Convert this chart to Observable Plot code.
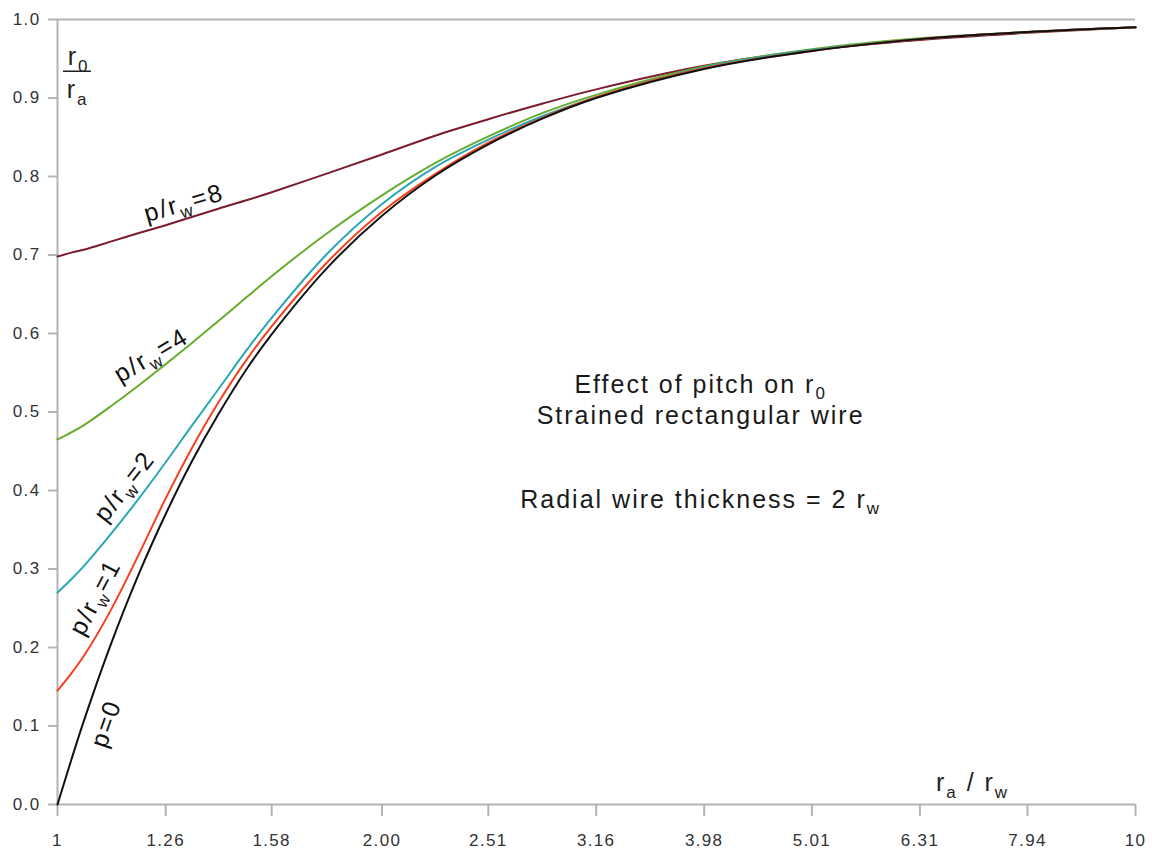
<!DOCTYPE html>
<html>
<head>
<meta charset="utf-8">
<script src="https://cdn.jsdelivr.net/npm/d3@7"></script>
<script src="https://cdn.jsdelivr.net/npm/@observablehq/plot@0.6"></script>
<style>
  html, body { margin: 0; padding: 0; background: #fff; }
  svg text { letter-spacing: 0.08em; }
</style>
</head>
<body>
<div id="chart"></div>
<script>
// ---- data ----
const xVals = [1, 1.03, 1.06, 1.12, 1.19, 1.26, 1.33, 1.41, 1.5, 1.58, 1.78, 2.0, 2.24, 2.51, 2.82, 3.16, 3.98, 5.01, 6.31, 7.94, 10];
const seriesNames = ["p/rw=8", "p/rw=4", "p/rw=2", "p/rw=1", "p=0"];
const pitch8 = [0.698, 0.703, 0.707, 0.717, 0.728, 0.738, 0.748, 0.759, 0.770, 0.780, 0.804, 0.828, 0.852, 0.873, 0.893, 0.911, 0.941, 0.961, 0.974, 0.983, 0.990];
const pitch4 = [0.465, 0.474, 0.484, 0.507, 0.534, 0.561, 0.587, 0.616, 0.647, 0.673, 0.728, 0.776, 0.817, 0.851, 0.881, 0.904, 0.940, 0.962, 0.976, 0.984, 0.990];
const pitch2 = [0.270, 0.287, 0.305, 0.344, 0.390, 0.436, 0.481, 0.529, 0.580, 0.620, 0.702, 0.765, 0.812, 0.847, 0.877, 0.901, 0.939, 0.961, 0.975, 0.984, 0.990];
const pitch1 = [0.145, 0.167, 0.191, 0.247, 0.319, 0.390, 0.452, 0.512, 0.568, 0.609, 0.691, 0.755, 0.803, 0.843, 0.875, 0.901, 0.938, 0.960, 0.975, 0.984, 0.990];
const pitch0 = [0.000, 0.057, 0.110, 0.203, 0.294, 0.370, 0.435, 0.497, 0.556, 0.599, 0.684, 0.750, 0.801, 0.841, 0.874, 0.900, 0.937, 0.960, 0.975, 0.984, 0.990];
const seriesValues = [pitch8, pitch4, pitch2, pitch1, pitch0];

const xTickValues = [1, 1.26, 1.58, 2.00, 2.51, 3.16, 3.98, 5.01, 6.31, 7.94, 10];
const xTickLabels = ["1", "1.26", "1.58", "2.00", "2.51", "3.16", "3.98", "5.01", "6.31", "7.94", "10"];
const yTickValues = [0, 0.1, 0.2, 0.3, 0.4, 0.5, 0.6, 0.7, 0.8, 0.9, 1.0];

const curveLabels = ["p/r_w=8", "p/r_w=4", "p/r_w=2", "p/r_w=1", "p=0"];
const noteLines = ["Effect of pitch on r_0", "Strained rectangular wire", "Radial wire thickness = 2 r_w"];
const yLabelParts = ["r_0", "r_a"];
const xLabelText = ["r_a / r_w"];

// ---- positions & styles ----
const seriesColors = ["#7b1c2c", "#66ac2e", "#2aa7b3", "#f5401e", "#111111"];
const axisGray = "#b4b4b4";
const curveLabelX = [1.310, 1.222, 1.154, 1.0845, 1.110];
const curveLabelY = [0.766, 0.572, 0.405, 0.264, 0.103];
const curveLabelAngle = [-16, -31, -52, -62, -71];
const noteX = [3.95, 3.95, 3.95];
const noteY = [0.535, 0.4955, 0.3885];
const yLabelX = [1.046, 1.044];
const yLabelY = [0.9516, 0.9096];

const table = [];
seriesNames.forEach((name, s) => {
  xVals.forEach((x, i) => table.push({series: name, x, y: seriesValues[s][i]}));
});
const tickLabelMap = new Map(xTickValues.map((v, i) => [v, xTickLabels[i]]));

const chart = Plot.plot({
  width: 1152,
  height: 853,
  marginLeft: 57,
  marginRight: 17,
  marginTop: 19,
  marginBottom: 49,
  style: {fontFamily: "'Liberation Sans', Arial, sans-serif", background: "#fff", color: "#222"},
  x: {type: "log", domain: [1, 10]},
  y: {domain: [0, 1]},
  color: {domain: seriesNames, range: seriesColors},
  marks: [
    Plot.ruleY([1], {stroke: axisGray, strokeWidth: 2}),
    Plot.ruleY([0], {stroke: axisGray, strokeWidth: 2}),
    Plot.ruleX([1], {stroke: axisGray, strokeWidth: 2}),
    Plot.axisX({ticks: xTickValues, tickFormat: d => tickLabelMap.get(d), tickSize: 12, tickPadding: 17,
      stroke: axisGray, strokeWidth: 2, fill: "#333", fontSize: 17, label: null}),
    Plot.axisY({ticks: yTickValues, tickFormat: d3.format(".1f"), tickSize: 9, tickPadding: 8,
      stroke: axisGray, strokeWidth: 2, fill: "#333", fontSize: 17, label: null}),
    Plot.line(table, {x: "x", y: "y", z: "series", stroke: "series", strokeWidth: 2, curve: "catmull-rom"}),
    Plot.text(curveLabels, {x: curveLabelX, y: curveLabelY, rotate: curveLabelAngle, text: d => d,
      fontSize: 25, fill: "#111"}),
    Plot.text(noteLines, {x: noteX, y: noteY, text: d => d, fontSize: 25, fill: "#1a1a1a"}),
    Plot.text(yLabelParts, {x: yLabelX, y: yLabelY, text: d => d, fontSize: 25, fill: "#222"}),
    Plot.ruleY([0.9341], {x1: 1.0129, x2: 1.0753, stroke: "#222", strokeWidth: 1.5}),
    Plot.text(xLabelText, {x: [7.06], y: [0.0268], text: d => d, fontSize: 25, fill: "#222"})
  ]
});

document.getElementById("chart").append(chart);

// turn "_x" into a subscript tspan
(function subify(svg) {
  const ns = "http://www.w3.org/2000/svg";
  svg.querySelectorAll("text").forEach(t => {
    const s = t.textContent;
    if (!s.includes("_")) return;
    const fs = parseFloat(getComputedStyle(t).fontSize) || 20;
    const shift = fs * 0.25;
    while (t.firstChild) t.removeChild(t.firstChild);
    const parts = s.split(/_(.)/);
    let lowered = false;
    parts.forEach((p, i) => {
      if (!p) return;
      const ts = document.createElementNS(ns, "tspan");
      ts.textContent = p;
      if (i % 2 === 1) {
        ts.setAttribute("font-size", (fs * 0.68) + "px");
        if (!lowered) { ts.setAttribute("dy", shift); lowered = true; }
      } else if (lowered) {
        ts.setAttribute("dy", -shift); lowered = false;
      }
      t.appendChild(ts);
    });
  });
})(chart);
</script>
</body>
</html>
